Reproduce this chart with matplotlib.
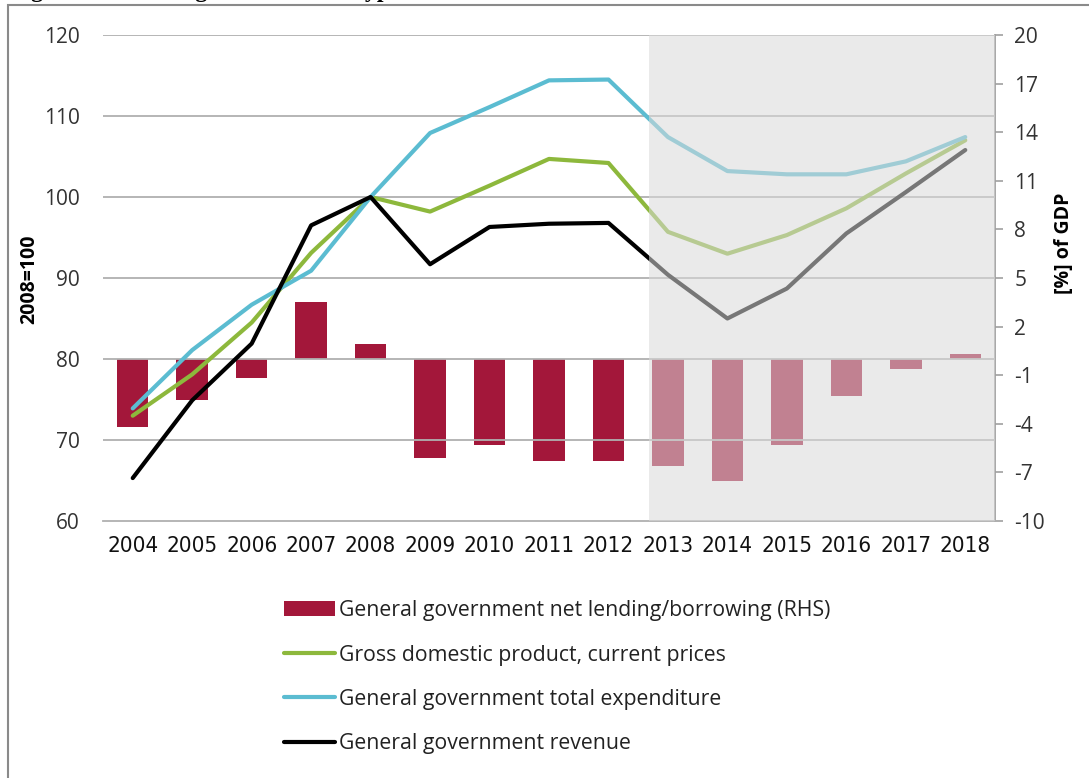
import matplotlib
matplotlib.use("Agg")
import matplotlib.pyplot as plt
from matplotlib.patches import Rectangle

plt.rcParams["axes.unicode_minus"] = False

years = ["2004", "2005", "2006", "2007", "2008", "2009", "2010", "2011",
         "2012", "2013", "2014", "2015", "2016", "2017", "2018"]
net_lending = [-4.2, -2.5, -1.2, 3.5, 0.9, -6.1, -5.3, -6.3, -6.3,
               -6.6, -7.5, -5.3, -2.3, -0.6, 0.3]
gdp = [73.0, 78.1, 84.5, 93.1, 100.0, 98.2, 101.4, 104.7, 104.2,
       95.7, 93.0, 95.3, 98.6, 102.9, 107.0]
expenditure = [73.9, 81.1, 86.7, 90.9, 100.0, 107.9, 111.1, 114.4, 114.5,
               107.4, 103.2, 102.8, 102.8, 104.4, 107.4]
revenue = [65.3, 74.9, 81.9, 96.5, 100.0, 91.7, 96.3, 96.7, 96.8,
           90.4, 85.0, 88.7, 95.5, 100.6, 105.8]
left_ticks = [60, 70, 80, 90, 100, 110, 120]
right_ticks = [-10, -7, -4, -1, 2, 5, 8, 11, 14, 17, 20]
forecast_start = "2013"

labels = ["General government net lending/borrowing (RHS)",
          "Gross domestic product, current prices",
          "General government total expenditure",
          "General government revenue"]

BAR = "#A3173A"
GREEN = "#8DB83C"
CYAN = "#5BBCD1"
BLACK = "#000000"
GRID = "#B0B0B0"

fig = plt.figure(figsize=(10.89, 7.78), dpi=100)
W, H = 1089, 778

# outer frame
fig.add_artist(Rectangle((8 / W, -0.05), 1.2, 1 - 5 / H + 0.05,
                         transform=fig.transFigure, fill=False,
                         edgecolor="#8a8a8a", linewidth=1.5))
# title cut off at the top edge (only descenders visible, as in the reference)
fig.text(10 / W, 1 + 3.5 / H, "Figure 1: General government in Cyprus",
         fontsize=17, fontweight="bold", family="Liberation Serif",
         va="baseline", ha="left")

ax_bar = fig.add_axes([103 / W, 1 - 521 / H, (995 - 103) / W, (521 - 35) / H])
ax = ax_bar.twinx()
ax.yaxis.tick_left()
ax.yaxis.set_label_position("left")
ax_bar.yaxis.tick_right()
ax_bar.yaxis.set_label_position("right")

x = list(range(len(years)))
bars = ax_bar.bar(x, net_lending, width=0.53, color=BAR, zorder=2)
ax_bar.set_ylim(-10, 20)
ax_bar.set_yticks(right_ticks)
ax_bar.set_xlim(-0.5, len(years) - 0.5)

lw = 3.0
l_gdp, = ax.plot(x, gdp, color=GREEN, lw=lw, solid_capstyle="round", zorder=3)
l_exp, = ax.plot(x, expenditure, color=CYAN, lw=lw, solid_capstyle="round", zorder=3)
l_rev, = ax.plot(x, revenue, color=BLACK, lw=lw, solid_capstyle="round", zorder=3)
ax.set_ylim(60, 120)
ax.set_yticks(left_ticks)
ax.set_xlim(-0.5, len(years) - 0.5)

for v in left_ticks[1:]:
    ax.axhline(v, color=GRID, lw=1.3, zorder=1)

fs = years.index(forecast_start)
ax.axvspan(fs - 0.31, len(years) - 0.5, color="#dadada", alpha=0.55,
           lw=0, zorder=10)

for a in (ax, ax_bar):
    for s in ("top", "left"):
        a.spines[s].set_visible(False)
ax.spines["right"].set_visible(False)
ax.spines["bottom"].set_visible(False)
ax_bar.spines["right"].set_color("#a0a0a0")
ax_bar.spines["right"].set_linewidth(1.3)
ax_bar.spines["bottom"].set_color(GRID)
ax_bar.spines["bottom"].set_linewidth(1.3)

ax_bar.set_xticks(x)
ax_bar.set_xticklabels(years, fontsize=16, color="#111111")
for t in ax_bar.get_xticklabels():
    t.set_family("DejaVu Sans")
    t.set_fontstretch("condensed")
ax_bar.tick_params(axis="x", length=0, pad=11)
ax_bar.tick_params(axis="y", length=6, width=1.2, color="#a0a0a0", pad=8,
                   labelsize=15, labelcolor="#333333")
for t in ax_bar.get_yticklabels():
    t.set_family("Open Sans")
ax.tick_params(axis="y", length=0, pad=16.5, labelsize=15, labelcolor="#333333")
for t in ax.get_yticklabels():
    t.set_family("Open Sans")
ax.tick_params(axis="x", length=0, labelbottom=False)

ax.set_ylabel("2008=100", fontsize=14, fontweight="bold", family="Open Sans")
ax.yaxis.set_label_coords((39 - 103) / 892, (521 - 279) / 486)
ax_bar.set_ylabel("[%] of GDP", fontsize=14, fontweight="bold",
                  family="Open Sans", rotation=90)
ax_bar.yaxis.set_label_coords((1054 - 103) / 892, (521 - 243) / 486)

ax.set_zorder(ax_bar.get_zorder() + 1)
ax.patch.set_visible(False)

leg = fig.legend([bars, l_gdp, l_exp, l_rev], labels,
                 loc="upper left", bbox_to_anchor=(265 / W, 1 - 581 / H),
                 frameon=False, handlelength=2.4,
                 handleheight=0.7, handletextpad=0.2, labelspacing=1.1,
                 prop={"family": "Open Sans", "size": 15.3})
for t in leg.get_texts():
    t.set_color("#222222")

fig.savefig("out.png", dpi=100)
